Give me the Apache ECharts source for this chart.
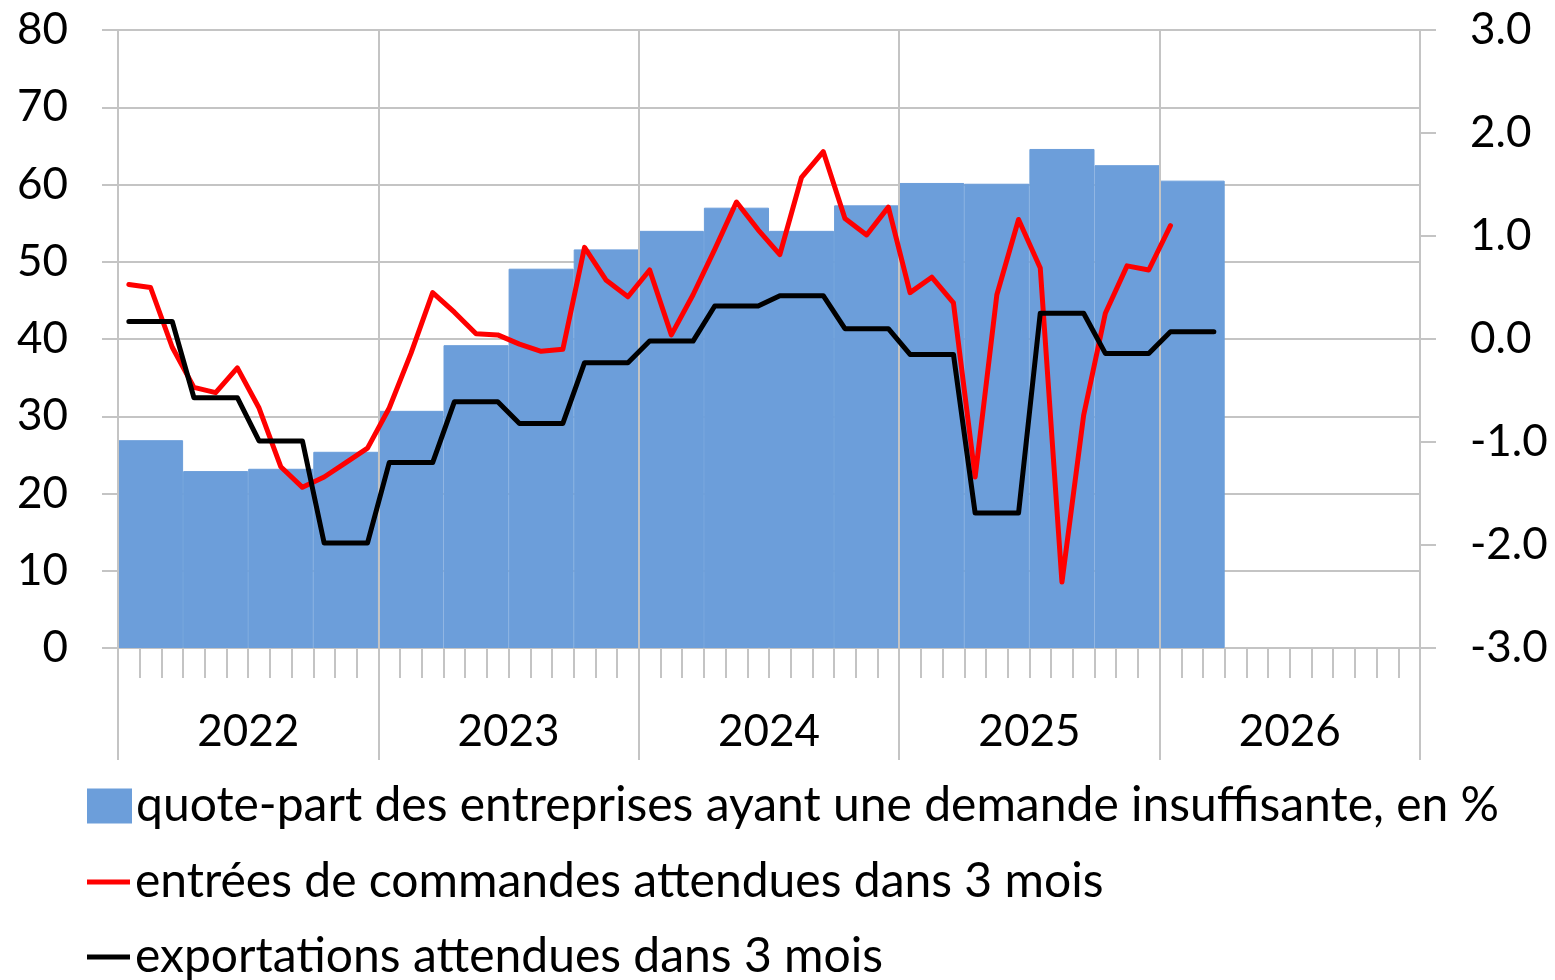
<!DOCTYPE html>
<html>
<head>
<meta charset="utf-8">
<script src="https://cdn.jsdelivr.net/npm/echarts@6/dist/echarts.min.js"></script>
<style>
  html, body { margin: 0; padding: 0; background: #fff; }
  #chart { width: 1555px; height: 980px; }
</style>
</head>
<body>
<div id="chart"></div>
<script>
// years shown on the axis
var years = ['2022', '2023', '2024', '2025', '2026'];

// quarterly bars: share of firms with insufficient demand, %
var quarters = ['2022T1','2022T2','2022T3','2022T4','2023T1','2023T2','2023T3','2023T4',
  '2024T1','2024T2','2024T3','2024T4','2025T1','2025T2','2025T3','2025T4',
  '2026T1','2026T2','2026T3','2026T4'];
var demandShare = [26.9, 22.9, 23.2, 25.4, 30.7, 39.2, 49.1, 51.6,
  54.0, 57.0, 54.0, 57.3, 60.2, 60.1, 64.6, 62.5,
  60.5, null, null, null];

// monthly lines (right axis)
var orders = [
  0.53, 0.50, -0.08, -0.47, -0.52, -0.28, -0.67, -1.24, -1.44, -1.34, -1.20, -1.06,
  -0.67, -0.14, 0.45, 0.26, 0.05, 0.04, -0.05, -0.12, -0.10, 0.89, 0.57, 0.41,
  0.67, 0.04, 0.43, 0.87, 1.33, 1.06, 0.82, 1.57, 1.82, 1.17, 1.01, 1.28,
  0.45, 0.60, 0.35, -1.34, 0.43, 1.16, 0.69, -2.36, -0.74, 0.25, 0.71, 0.67,
  1.10
];
var exportsExp = [
  0.17, 0.17, 0.17, -0.57, -0.57, -0.57, -0.99, -0.99, -0.99, -1.98, -1.98, -1.98,
  -1.20, -1.20, -1.20, -0.61, -0.61, -0.61, -0.82, -0.82, -0.82, -0.23, -0.23, -0.23,
  -0.02, -0.02, -0.02, 0.32, 0.32, 0.32, 0.42, 0.42, 0.42, 0.10, 0.10, 0.10,
  -0.15, -0.15, -0.15, -1.69, -1.69, -1.69, 0.25, 0.25, 0.25, -0.14, -0.14, -0.14,
  0.07, 0.07, 0.07
];

var months = [];
years.forEach(function (y) {
  for (var m = 1; m <= 12; m++) months.push(y + '-' + (m < 10 ? '0' + m : m));
});

var FONT = 'Lato';
var GRAY = '#c4c4c4';
var BLUE = '#6c9eda';

var chart = echarts.init(document.getElementById('chart'));

var legendText = { fontFamily: FONT, fontSize: 48, lineHeight: 54, color: '#000' };

var option = {
  animation: false,
  textStyle: { fontFamily: FONT, color: '#000' },
  grid: { left: 118, right: 135, top: 30, bottom: 332 },
  legend: [
    {
      left: 87, top: 779, padding: 0,
      itemWidth: 43, itemHeight: 33, icon: 'rect',
      textStyle: legendText,
      data: ['quote-part des entreprises ayant une demande insuffisante, en %']
    },
    {
      left: 87, top: 855, padding: 0,
      itemWidth: 43, itemHeight: 5, icon: 'rect',
      textStyle: legendText,
      data: ['entrées de commandes attendues dans 3 mois']
    },
    {
      left: 87, top: 930, padding: 0,
      itemWidth: 43, itemHeight: 5, icon: 'rect',
      textStyle: legendText,
      data: ['exportations attendues dans 3 mois']
    }
  ],
  xAxis: [
    {
      type: 'category', data: months, boundaryGap: true, position: 'bottom',
      axisLine: { show: true, lineStyle: { color: GRAY, width: 2 } },
      axisTick: { show: true, interval: 0, length: 30, lineStyle: { color: GRAY, width: 2 } },
      axisLabel: { show: false },
      splitLine: { show: false }
    },
    {
      type: 'category', data: quarters, boundaryGap: true, show: false
    },
    {
      type: 'category', data: years, boundaryGap: true, position: 'bottom', z: 3,
      axisLine: { show: false },
      axisTick: { show: true, interval: 0, length: 112, lineStyle: { color: GRAY, width: 2 } },
      axisLabel: { fontFamily: FONT, fontSize: 44, color: '#000', margin: 62 },
      splitLine: { show: true, interval: 0, lineStyle: { color: GRAY, width: 2 } }
    }
  ],
  yAxis: [
    {
      type: 'value', min: 0, max: 80, interval: 10,
      axisLine: { show: true, lineStyle: { color: GRAY, width: 2 } },
      axisTick: { show: true, length: 16, lineStyle: { color: GRAY, width: 2 } },
      axisLabel: { fontFamily: FONT, fontSize: 44, color: '#000', margin: 50 },
      splitLine: { show: true, lineStyle: { color: GRAY, width: 2 } }
    },
    {
      type: 'value', min: -3, max: 3, interval: 1, position: 'right',
      axisLine: { show: true, lineStyle: { color: GRAY, width: 2 } },
      axisTick: { show: true, length: 16, lineStyle: { color: GRAY, width: 2 } },
      axisLabel: {
        fontFamily: FONT, fontSize: 44, color: '#000', margin: 50,
        formatter: function (v) { return v.toFixed(1); }
      },
      splitLine: { show: false }
    }
  ],
  series: [
    {
      name: 'quote-part des entreprises ayant une demande insuffisante, en %',
      type: 'bar', xAxisIndex: 1, yAxisIndex: 0,
      data: demandShare, barWidth: '100%', barCategoryGap: '0%',
      itemStyle: { color: BLUE, borderColor: BLUE, borderWidth: 1 }, z: 2
    },
    {
      name: 'entrées de commandes attendues dans 3 mois',
      type: 'line', xAxisIndex: 0, yAxisIndex: 1,
      data: orders, symbol: 'none', z: 5,
      lineStyle: { color: '#ff0000', width: 5, cap: 'round', join: 'round' },
      itemStyle: { color: '#ff0000' }
    },
    {
      name: 'exportations attendues dans 3 mois',
      type: 'line', xAxisIndex: 0, yAxisIndex: 1,
      data: exportsExp, symbol: 'none', z: 6,
      lineStyle: { color: '#000000', width: 5, cap: 'round', join: 'round' },
      itemStyle: { color: '#000000' }
    }
  ]
};

option && chart.setOption(option);
</script>
</body>
</html>
